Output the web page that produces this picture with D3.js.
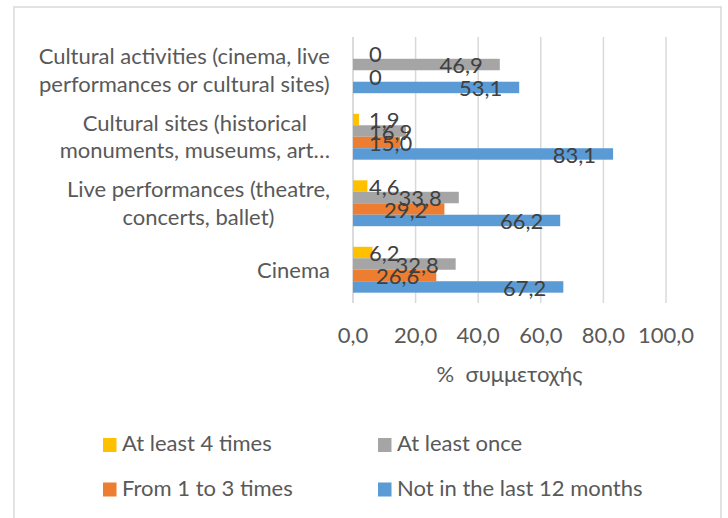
<!DOCTYPE html>
<html>
<head>
<meta charset="utf-8">
<script src="https://cdn.jsdelivr.net/npm/d3@7"></script>
<style>
  body { margin: 0; background: #fff; }
  text { font-family: Lato, "Open Sans", sans-serif; }
</style>
</head>
<body>
<svg width="728" height="518"></svg>
<script>
// categories, top to bottom
const categories = [
  ["Cultural activities (cinema, live", "performances or cultural sites)"],
  ["Cultural sites (historical", "monuments, museums, art…"],
  ["Live performances (theatre,", "concerts, ballet)"],
  ["Cinema"]
];
const series = ["At least 4 times", "At least once", "From 1 to 3 times", "Not in the last 12 months"];
const colors = ["#FFC000", "#A5A5A5", "#ED7D31", "#5B9BD5"];

// values per series, same order as categories
const atLeast4 = [0, 1.9, 4.6, 6.2];
const atLeastOnce = [46.9, 16.9, 33.8, 32.8];
const from1to3 = [0, 15.0, 29.2, 26.6];
const notLast12 = [53.1, 83.1, 66.2, 67.2];
const values = [atLeast4, atLeastOnce, from1to3, notLast12];

const ticks = [0, 20, 40, 60, 80, 100];
const axisTitle = "%  συμμετοχής";

const svg = d3.select("svg"),
      fs = 22,
      textCol = "#595959",
      labelCol = "#404040";

// chart border
svg.append("rect")
   .attr("x", 14).attr("y", 7)
   .attr("width", 707).attr("height", 520)
   .attr("fill", "none")
   .attr("stroke", "#d9d9d9")
   .attr("stroke-width", 1.5);

const x = d3.scaleLinear().domain([0, 100]).range([353, 666]);
const y0 = d3.scaleBand()
  .domain(d3.range(categories.length))
  .range([37, 303])
  .paddingInner(0.31)
  .paddingOuter(0.155);
const y1 = d3.scaleBand()
  .domain(d3.range(series.length))
  .range([0, y0.bandwidth()]);

// gridlines
svg.append("g")
   .selectAll("line")
   .data(ticks)
   .join("line")
     .attr("x1", d => x(d)).attr("x2", d => x(d))
     .attr("y1", 37).attr("y2", 303)
     .attr("stroke", "#d9d9d9")
     .attr("stroke-width", 1.5);

// vertical category axis line
svg.append("line")
   .attr("x1", x(0)).attr("x2", x(0))
   .attr("y1", 37).attr("y2", 303)
   .attr("stroke", "#d9d9d9")
   .attr("stroke-width", 1.5);

// bars
const groups = svg.append("g")
  .selectAll("g")
  .data(categories)
  .join("g")
    .attr("transform", (_, i) => `translate(0,${y0(i)})`);

groups.selectAll("rect")
  .data((_, ci) => values.map((v, si) => ({ si, v: v[ci] })))
  .join("rect")
    .attr("x", x(0))
    .attr("y", d => y1(d.si))
    .attr("width", d => x(d.v) - x(0))
    .attr("height", y1.bandwidth())
    .attr("fill", d => colors[d.si]);

// data labels (Excel puts them just inside the bar end, never left of ~369)
groups.selectAll("text")
  .data((_, ci) => values.map((v, si) => ({ si, v: v[ci] })))
  .join("text")
    .attr("y", d => y1(d.si) + y1.bandwidth() / 2 + 1)
    .attr("dy", "0.36em")
    .attr("font-size", fs)
    .attr("fill", labelCol)
    .attr("text-anchor", "end")
    .text(d => d.v === 0 ? "0" : d3.format(".1f")(d.v).replace(".", ","))
    .attr("x", function(d) {
      const w = this.getComputedTextLength();
      return Math.max(x(d.v) - 17, 369 + w);
    });

// category labels: block right-aligned, lines centered inside the block
const lineH = 27.5;
svg.append("g")
  .selectAll("g")
  .data(categories)
  .join("g")
  .each(function(lines, i) {
    const g = d3.select(this);
    const cy = y0(i) + y0.bandwidth() / 2;
    const top = cy - (lines.length - 1) * lineH / 2;
    const t = g.selectAll("text")
      .data(lines)
      .join("text")
        .attr("y", (_, j) => top + j * lineH)
        .attr("dy", "0.36em")
        .attr("font-size", fs)
        .attr("fill", textCol)
        .attr("text-anchor", "middle")
        .text(d => d);
    let maxW = 0;
    t.each(function() { maxW = Math.max(maxW, this.getComputedTextLength()); });
    t.attr("x", 330 - maxW / 2);
  });

// tick labels
svg.append("g")
   .selectAll("text")
   .data(ticks)
   .join("text")
     .attr("x", d => x(d))
     .attr("y", 343)
     .attr("text-anchor", "middle")
     .attr("font-size", fs)
     .attr("fill", textCol)
     .text(d => d3.format(".1f")(d).replace(".", ","));

// axis title
svg.append("text")
   .attr("x", (x(0) + x(100)) / 2)
   .attr("y", 382)
   .attr("text-anchor", "middle")
   .attr("font-size", fs)
   .attr("fill", textCol)
   .style("white-space", "pre")
   .text(axisTitle);

// legend, two columns
const legend = svg.append("g")
  .selectAll("g")
  .data(series)
  .join("g")
    .attr("transform", (_, i) => `translate(${i % 2 ? 378 : 103},${i < 2 ? 438 : 482.5})`);

legend.append("rect")
  .attr("width", 13.5).attr("height", 14)
  .attr("fill", (_, i) => colors[i]);

legend.append("text")
  .attr("x", 19)
  .attr("y", 13)
  .attr("font-size", fs)
  .attr("fill", textCol)
  .text(d => d);
</script>
</body>
</html>
